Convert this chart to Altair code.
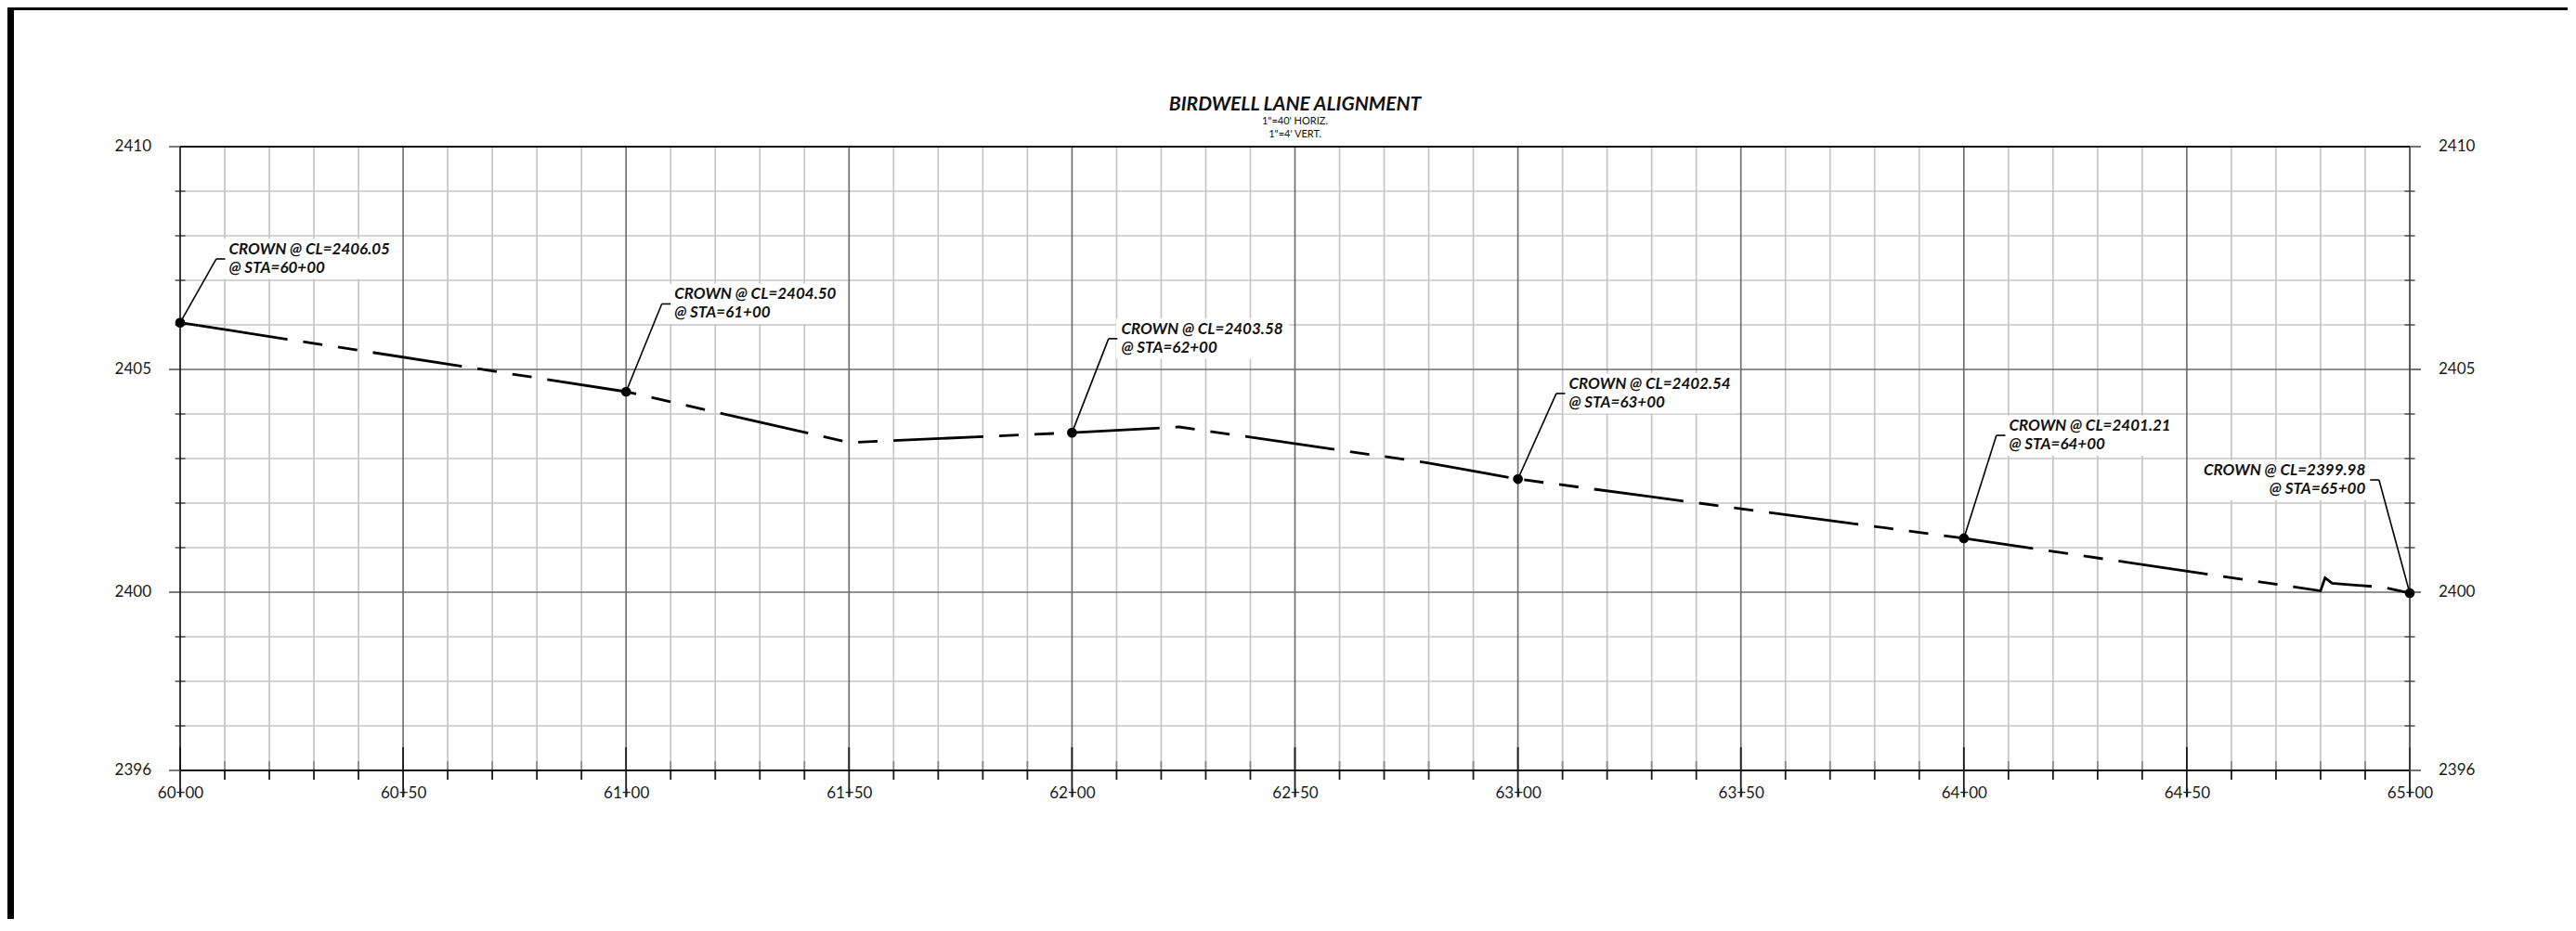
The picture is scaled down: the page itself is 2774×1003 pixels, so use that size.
import altair as alt
import pandas as pd
import numpy as np

# ---------------- data ----------------
# profile of the crown line: station in feet (6000 = 60+00), elevation in feet
station = [6000, 6100, 6150, 6200, 6224, 6280, 6300, 6400, 6480, 6481, 6482.6, 6494, 6500]
elevation = [2406.05, 2404.50, 2403.36, 2403.58, 2403.71, 2402.90, 2402.54,
             2401.21, 2400.03, 2400.32, 2400.20, 2400.11, 2399.98]

# labelled crown points
crown_sta = [6000, 6100, 6200, 6300, 6400, 6500]
crown_elev = [2406.05, 2404.50, 2403.58, 2402.54, 2401.21, 2399.98]
crown_line1 = ["CROWN @ CL=2406.05", "CROWN @ CL=2404.50", "CROWN @ CL=2403.58",
               "CROWN @ CL=2402.54", "CROWN @ CL=2401.21", "CROWN @ CL=2399.98"]
crown_line2 = ["@ STA=60+00", "@ STA=61+00", "@ STA=62+00",
               "@ STA=63+00", "@ STA=64+00", "@ STA=65+00"]

# leader layout (elbow offset along station in ft, elbow elevation)
leader_dx_ft = [8.1, 8.0, 8.2, 8.6, 7.3, -6.9]
leader_elev = [2407.48, 2406.47, 2405.69, 2404.46, 2403.52, 2402.52]

# titles
title_text = "BIRDWELL LANE ALIGNMENT"
subtitle_lines = ['1"=40\' HORIZ.', '1"=4\' VERT.']

# axis ticks / labels
x_major = list(range(6000, 6501, 50))
x_minor = [s for s in range(6000, 6501, 10) if s % 50 != 0]
y_all = list(range(2396, 2411))
y_major = [2400, 2405]
y_minor = [v for v in y_all if v not in (2396, 2400, 2405, 2410)]
y_labels = [2396, 2400, 2405, 2410]

# ---------------- layout ----------------
W, H = 2401, 672
PAD = {"left": 186, "top": 150, "right": 170, "bottom": 160}
STUB_FT = 2.0
BOX_FT = 38.5
BOX_HALF = 0.45
FONT = "Lato"

xscale = alt.Scale(domain=[6000, 6500], nice=False, zero=False)
yscale = alt.Scale(domain=[2396, 2410], nice=False, zero=False)
label_expr = ("floor(datum.value/100) + '+' + "
              "(datum.value % 100 == 0 ? '00' : '' + (datum.value % 100))")
xaxis = alt.Axis(values=x_major, labelExpr=label_expr, ticks=False, tickSize=0,
                 domain=False, grid=False, title=None, labelFont=FONT,
                 labelFontSize=17, labelColor="#1a1a1a", labelPadding=16,
                 labelFlush=False, labelOverlap=False)


def X(f):
    return alt.X(f, type="quantitative", scale=xscale, axis=xaxis)


def X2(f):
    return alt.X2(f)


def Y(f):
    return alt.Y(f, type="quantitative", scale=yscale, axis=None)


prof = pd.DataFrame({"s": station, "e": elevation, "o": range(len(station))})
crown = pd.DataFrame({"s": crown_sta, "e": crown_elev,
                      "label": [a + "\n" + b for a, b in zip(crown_line1, crown_line2)],
                      "dx": leader_dx_ft, "le": leader_elev})
crown["ls"] = crown["s"] + crown["dx"]
crown["se"] = crown["ls"] + np.sign(crown["dx"]) * STUB_FT
crown["side"] = np.where(crown["dx"] > 0, "L", "R")
crown["bx1"] = np.where(crown["dx"] > 0, crown["se"] - 0.3, crown["se"] - BOX_FT)
crown["bx2"] = np.where(crown["dx"] > 0, crown["se"] + BOX_FT, crown["se"] + 0.3)
crown["by1"] = crown["le"] - BOX_HALF
crown["by2"] = crown["le"] + BOX_HALF

# solid start piece of the dashed profile (first 20 px)
s_end = 6000 + 20 / (W / 500.0) / 1.012
start = pd.DataFrame({"s": [6000, s_end],
                      "e": [elevation[0], float(np.interp(s_end, station, elevation))],
                      "o": [0, 1]})

dfx_minor = pd.DataFrame({"s": x_minor})
dfx_major_in = pd.DataFrame({"s": [s for s in x_major if s not in (6000, 6500)]})
dfx_major = pd.DataFrame({"s": x_major})
dfy_minor = pd.DataFrame({"e": y_minor})
dfy_major = pd.DataFrame({"e": y_major})
dfy_ext = pd.DataFrame({"e": [2396, 2400, 2405, 2410]})
dfy_lab = pd.DataFrame({"e": y_labels, "t": [str(v) for v in y_labels]})
one = pd.DataFrame({"a": [0]})
df_title = pd.DataFrame({"t": [title_text]})
df_sub1 = pd.DataFrame({"t": [subtitle_lines[0]]})
df_sub2 = pd.DataFrame({"t": [subtitle_lines[1]]})

layers = []

# page frame (left & top black bars)
layers.append(alt.Chart(one).mark_rect(color="black", strokeWidth=0).encode(
    x=alt.value(-PAD["left"]), x2=alt.value(-PAD["left"] + 7),
    y=alt.value(-PAD["top"]), y2=alt.value(H + PAD["bottom"])))
layers.append(alt.Chart(one).mark_rect(color="black", strokeWidth=0).encode(
    x=alt.value(-PAD["left"]), x2=alt.value(W + PAD["right"]),
    y=alt.value(-PAD["top"]), y2=alt.value(-PAD["top"] + 3)))

# grids
layers.append(alt.Chart(dfx_minor).mark_rule(color="#c6c6c6", strokeWidth=1.7).encode(
    x=X("s"), y=alt.value(0), y2=alt.value(H)))
layers.append(alt.Chart(dfy_minor).mark_rule(color="#c6c6c6", strokeWidth=1.7).encode(
    y=Y("e"), x=alt.value(0), x2=alt.value(W)))
layers.append(alt.Chart(dfx_major_in).mark_rule(color="#6b6b6b", strokeWidth=1.6).encode(
    x=X("s"), y=alt.value(0), y2=alt.value(H)))
layers.append(alt.Chart(dfy_major).mark_rule(color="#6b6b6b", strokeWidth=1.6).encode(
    y=Y("e"), x=alt.value(0), x2=alt.value(W)))

# x ticks
layers.append(alt.Chart(dfx_minor).mark_rule(color="#8a8a8a", strokeWidth=1.8).encode(
    x=X("s"), y=alt.value(H - 10), y2=alt.value(H)))
layers.append(alt.Chart(dfx_minor).mark_rule(color="#1a1a1a", strokeWidth=1.8).encode(
    x=X("s"), y=alt.value(H), y2=alt.value(H + 10)))
layers.append(alt.Chart(dfx_major).mark_rule(color="#1a1a1a", strokeWidth=1.8).encode(
    x=X("s"), y=alt.value(H - 25), y2=alt.value(H + 29)))

# y ticks (left & right)
for x0 in (0, W):
    layers.append(alt.Chart(dfy_minor).mark_rule(color="#555555", strokeWidth=1.6).encode(
        y=Y("e"), x=alt.value(x0 - 5.5), x2=alt.value(x0 + 5.5)))
layers.append(alt.Chart(dfy_ext).mark_rule(color="#555555", strokeWidth=1.6).encode(
    y=Y("e"), x=alt.value(-12), x2=alt.value(0)))
layers.append(alt.Chart(dfy_ext).mark_rule(color="#555555", strokeWidth=1.6).encode(
    y=Y("e"), x=alt.value(W), x2=alt.value(W + 12)))

# borders
layers.append(alt.Chart(one).mark_rule(color="#111111", strokeWidth=2).encode(
    x=alt.value(0), x2=alt.value(W), y=alt.value(0)))
layers.append(alt.Chart(one).mark_rule(color="#111111", strokeWidth=2.2).encode(
    x=alt.value(0), x2=alt.value(W), y=alt.value(H)))
layers.append(alt.Chart(one).mark_rule(color="#111111", strokeWidth=1.6).encode(
    x=alt.value(0), y=alt.value(0), y2=alt.value(H)))
layers.append(alt.Chart(one).mark_rule(color="#3a3a3a", strokeWidth=1.6).encode(
    x=alt.value(W), y=alt.value(0), y2=alt.value(H)))

# y labels (both sides)
ylab_style = dict(font=FONT, fontSize=17, color="#1a1a1a", baseline="middle")
layers.append(alt.Chart(dfy_lab).mark_text(align="right", dx=-31, **ylab_style).encode(
    y=Y("e"), x=alt.value(0), text="t:N"))
layers.append(alt.Chart(dfy_lab).mark_text(align="left", dx=31, **ylab_style).encode(
    y=Y("e"), x=alt.value(W), text="t:N"))

# white label boxes
layers.append(alt.Chart(crown).mark_rect(color="white").encode(
    x=X("bx1"), x2=X2("bx2"), y=Y("by1"), y2=alt.Y2("by2")))

# profile line
layers.append(alt.Chart(prof).mark_line(
    color="black", strokeWidth=2.8, strokeCap="butt", strokeJoin="miter",
    strokeDash=[97, 17, 21, 17, 21, 17], strokeDashOffset=-20).encode(
    x=X("s"), y=Y("e"), order="o:Q"))
layers.append(alt.Chart(start).mark_line(color="black", strokeWidth=2.8, strokeCap="butt").encode(
    x=X("s"), y=Y("e"), order="o:Q"))

# leaders
layers.append(alt.Chart(crown).mark_rule(color="black", strokeWidth=1.6).encode(
    x=X("s"), y=Y("e"), x2=X2("ls"), y2=alt.Y2("le")))
layers.append(alt.Chart(crown).mark_rule(color="black", strokeWidth=1.6).encode(
    x=X("ls"), x2=X2("se"), y=Y("le")))

# crown points
layers.append(alt.Chart(crown).mark_circle(color="black", size=115, opacity=1).encode(
    x=X("s"), y=Y("e")))

# labels
lab_style = dict(font=FONT, fontSize=17, fontWeight="bold", fontStyle="italic",
                 color="#111111", baseline="middle", lineBreak="\n", lineHeight=20, dy=-10)
layers.append(alt.Chart(crown).transform_filter("datum.side == 'L'").mark_text(
    align="left", dx=4, **lab_style).encode(x=X("se"), y=Y("le"), text="label:N"))
layers.append(alt.Chart(crown).transform_filter("datum.side == 'R'").mark_text(
    align="right", dx=-5, **lab_style).encode(x=X("se"), y=Y("le"), text="label:N"))

# title block
layers.append(alt.Chart(df_title).mark_text(
    font=FONT, fontSize=21, fontWeight="bold", fontStyle="italic", color="#111111",
    align="center", baseline="alphabetic").encode(
    x=alt.value(W / 2), y=alt.value(-39), text="t:N"))
layers.append(alt.Chart(df_sub1).mark_text(
    font=FONT, fontSize=11, color="#111111", align="center", baseline="alphabetic").encode(
    x=alt.value(W / 2), y=alt.value(-24.5), text="t:N"))
layers.append(alt.Chart(df_sub2).mark_text(
    font=FONT, fontSize=11, color="#111111", align="center", baseline="alphabetic").encode(
    x=alt.value(W / 2), y=alt.value(-10), text="t:N"))

chart = alt.layer(*layers).properties(
    width=W, height=H,
    padding=PAD,
    autosize=alt.AutoSizeParams(type="none"),
).configure_view(stroke=None).configure(background="white")

chart.save("out.html", embed_options={"renderer": "svg", "actions": False})
